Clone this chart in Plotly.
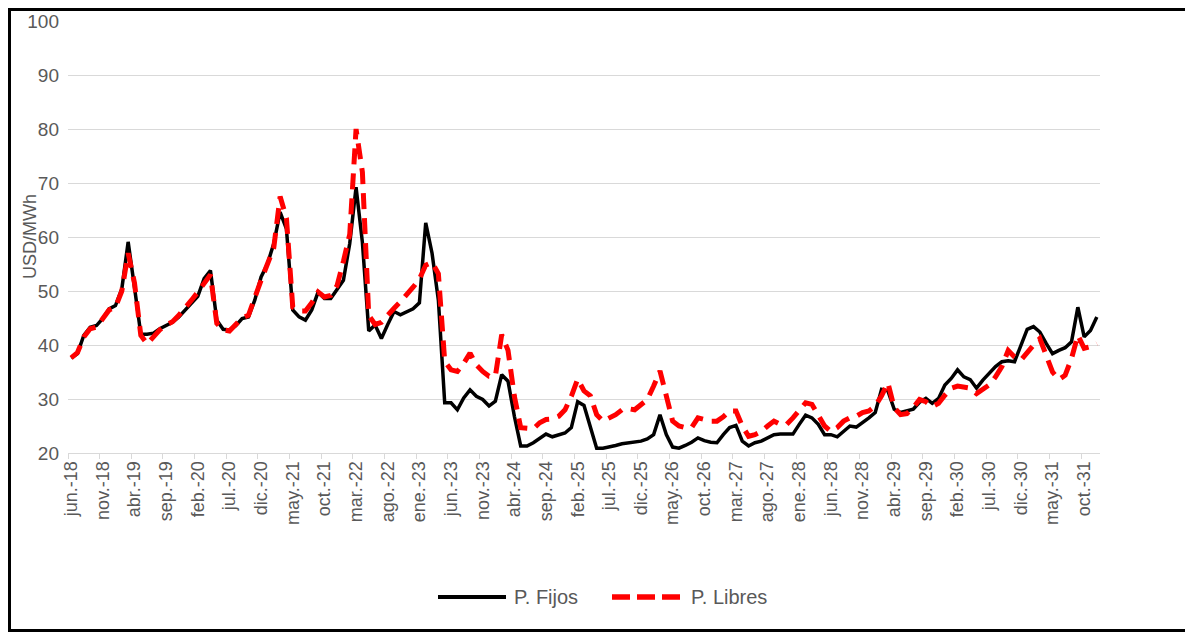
import plotly.graph_objects as go

# Month abbreviations (Spanish) and series start
month_abbr = ["ene.", "feb.", "mar.", "abr.", "may.", "jun.", "jul.", "ago.", "sep.", "oct.", "nov.", "dic."]
start_year = 2018
start_month = 6  # June

p_fijos = [
    37.6, 38.4, 41.8, 43.3, 43.6, 44.9, 46.7, 47.3, 50.4, 59.1,
    50.7, 42.0, 42.0, 42.2, 43.0, 43.6, 44.2, 45.2, 46.4, 47.7,
    49.0, 52.3, 53.8, 44.6, 42.9, 42.8, 43.6, 44.9, 45.2, 48.3,
    52.6, 55.0, 58.8, 64.6, 61.5, 46.5, 45.2, 44.6, 46.5, 49.8,
    48.6, 48.6, 50.2, 52.0, 58.8, 69.2, 59.0, 42.6, 43.7, 41.2,
    43.8, 46.2, 45.6, 46.2, 46.7, 47.8, 62.6, 57.0, 48.3, 29.3,
    29.3, 28.0, 30.2, 31.7, 30.5, 29.9, 28.7, 29.6, 34.5, 33.3,
    26.8, 21.3, 21.3, 21.9, 22.8, 23.5, 23.0, 23.4, 23.7, 24.7,
    29.5, 28.8, 25.0, 20.9, 20.9, 21.1, 21.4, 21.7, 21.9, 22.0,
    22.2, 22.6, 23.4, 27.1, 23.4, 21.1, 20.9, 21.4, 22.0, 22.8,
    22.3, 22.0, 21.9, 23.4, 24.7, 25.1, 22.2, 21.3, 21.9, 22.2,
    22.8, 23.4, 23.5, 23.5, 23.5, 25.3, 27.0, 26.5, 25.3, 23.4,
    23.4, 23.0, 24.0, 25.0, 24.8, 25.6, 26.5, 27.5, 31.8, 31.5,
    28.1, 27.5, 27.8, 28.1, 29.4, 30.1, 29.2, 30.1, 32.6, 33.8,
    35.4, 34.1, 33.6, 32.0, 33.5, 34.7, 36.0, 36.9, 37.1, 36.9,
    40.0, 42.9, 43.4, 42.4, 40.3, 38.4, 39.0, 39.5, 40.6, 47.0,
    41.5, 42.7, 45.2,
]

p_libres = [
    37.6, 38.6, 41.5, 43.0, 43.3, 44.8, 46.5, 47.0, 50.0, 57.0,
    51.5, 41.8, 40.2, 41.5, 42.8, 43.7, 44.3, 45.5, 46.8, 48.3,
    49.8, 51.5, 53.0, 44.0, 42.8, 42.6, 43.7, 45.0, 45.5, 49.0,
    52.0, 55.0, 58.0, 67.5, 63.5, 47.0, 46.3, 46.3, 47.8, 49.8,
    48.9, 49.2, 51.0, 55.5, 60.5, 80.0, 72.0, 45.5, 43.8, 44.2,
    45.6, 46.8, 48.0, 49.2, 50.7, 52.2, 54.8, 55.3, 53.2, 37.0,
    35.4, 35.1, 36.6, 38.5, 36.3, 35.1, 34.2, 34.2, 41.9, 39.0,
    30.5, 24.7, 24.5, 24.5, 25.6, 26.2, 26.3, 26.8, 28.0, 30.5,
    33.7, 31.5, 30.6, 27.1, 25.9, 26.5, 27.1, 28.0, 28.2, 28.0,
    29.0, 29.9, 32.4, 35.2, 30.6, 25.9, 25.0, 24.7, 24.7, 26.5,
    26.2, 25.9, 25.9, 26.7, 27.8, 27.8, 25.0, 23.1, 23.4, 24.0,
    25.0, 25.9, 25.3, 25.3, 26.5, 27.8, 29.3, 29.0, 26.8, 25.0,
    24.0, 24.7, 25.9, 26.5, 26.8, 27.5, 27.8, 28.7, 30.6, 33.0,
    28.4, 27.1, 27.3, 28.4, 29.9, 29.5, 28.6, 29.2, 30.7, 32.0,
    32.4, 32.2, 32.0, 31.0, 31.7, 32.6, 34.1, 36.0, 39.0, 37.8,
    37.2, 38.7, 40.0, 41.2, 37.8, 35.0, 33.6, 34.4, 37.5, 41.8,
    39.4, 39.7, 40.3,
]

series_names = ["P. Fijos", "P. Libres"]

n = len(p_fijos)
categories = []
for k in range(n):
    m = (start_month - 1 + k) % 12
    y = start_year + (start_month - 1 + k) // 12
    categories.append(f"{month_abbr[m]}-{y % 100:02d}")

x_idx = list(range(n))
label_step = 5
tick_vals = x_idx[::label_step]
tick_text = categories[::label_step]

FONT = "Arial, Liberation Sans, sans-serif"
GRAY = "#595959"
GRID = "#d9d9d9"
RED = "#ff0000"
RED_DASH = "16px,9px"

fig = go.Figure()
fig.add_trace(go.Scatter(
    x=x_idx, y=p_fijos, mode="lines", name=series_names[0],
    line=dict(color="black", width=3.5),
    hoverinfo="skip", showlegend=False,
))
fig.add_trace(go.Scatter(
    x=x_idx, y=p_libres, mode="lines", name=series_names[1],
    line=dict(color=RED, width=5, dash=RED_DASH),
    hoverinfo="skip", showlegend=False,
))

# The page body adds an 8px offset; the figure is sized to compensate.
OFF = 8
W, H = 1193 - OFF, 633 - OFF
L, R, T, B = 68 - OFF, 93, 21 - OFF, 180
pw, ph = W - L - R, H - T - B


def px(page_x):
    return (page_x - OFF - L) / pw


def py(page_y):
    return (H - B - (page_y - OFF)) / ph


legend_y = py(597)
shapes = [
    # outer frame
    dict(type="rect", xref="paper", yref="paper",
         x0=px(9.5), x1=px(1189.5), y0=py(630.5), y1=py(9.5),
         line=dict(color="black", width=3), fillcolor="rgba(0,0,0,0)",
         layer="above"),
    # legend symbols
    dict(type="line", xref="paper", yref="paper",
         x0=px(438), x1=px(506), y0=legend_y, y1=legend_y,
         line=dict(color="black", width=4)),
    dict(type="line", xref="paper", yref="paper",
         x0=px(612), x1=px(681), y0=legend_y, y1=legend_y,
         line=dict(color=RED, width=5.5, dash="18px,7px")),
]

annotations = [
    dict(text="USD/MWh", textangle=-90, xref="paper", yref="paper",
         x=px(30), y=0.5, xanchor="center", yanchor="middle",
         showarrow=False, font=dict(size=18, color=GRAY, family=FONT)),
    dict(text=series_names[0], xref="paper", yref="paper",
         x=px(512), y=legend_y, xanchor="left", yanchor="middle",
         showarrow=False, font=dict(size=20, color=GRAY, family=FONT)),
    dict(text=series_names[1], xref="paper", yref="paper",
         x=px(689), y=legend_y, xanchor="left", yanchor="middle",
         showarrow=False, font=dict(size=20, color=GRAY, family=FONT)),
]

fig.update_layout(
    width=W, height=H,
    margin=dict(l=L, r=R, t=T, b=B, autoexpand=False),
    paper_bgcolor="white", plot_bgcolor="white",
    font=dict(family=FONT, size=17, color=GRAY),
    showlegend=False,
    xaxis=dict(
        range=[-0.5, n - 0.5],
        tickmode="array", tickvals=tick_vals, ticktext=tick_text,
        tickangle=-90, ticks="",
        showgrid=False, zeroline=False,
        showline=True, linecolor=GRID, linewidth=1,
        tickfont=dict(size=18, color=GRAY),
        minor=dict(ticks="outside", tick0=-0.5, dtick=label_step,
                   ticklen=5, tickcolor=GRID, tickwidth=1, showgrid=False),
    ),
    yaxis=dict(
        range=[20, 100], dtick=10, tick0=20,
        showgrid=True, gridcolor=GRID, gridwidth=1,
        zeroline=False, showline=False,
        ticks="", tickfont=dict(size=19, color=GRAY),
        ticklabelstandoff=8,
    ),
    annotations=annotations,
    shapes=shapes,
)

fig.write_html("out.html")
